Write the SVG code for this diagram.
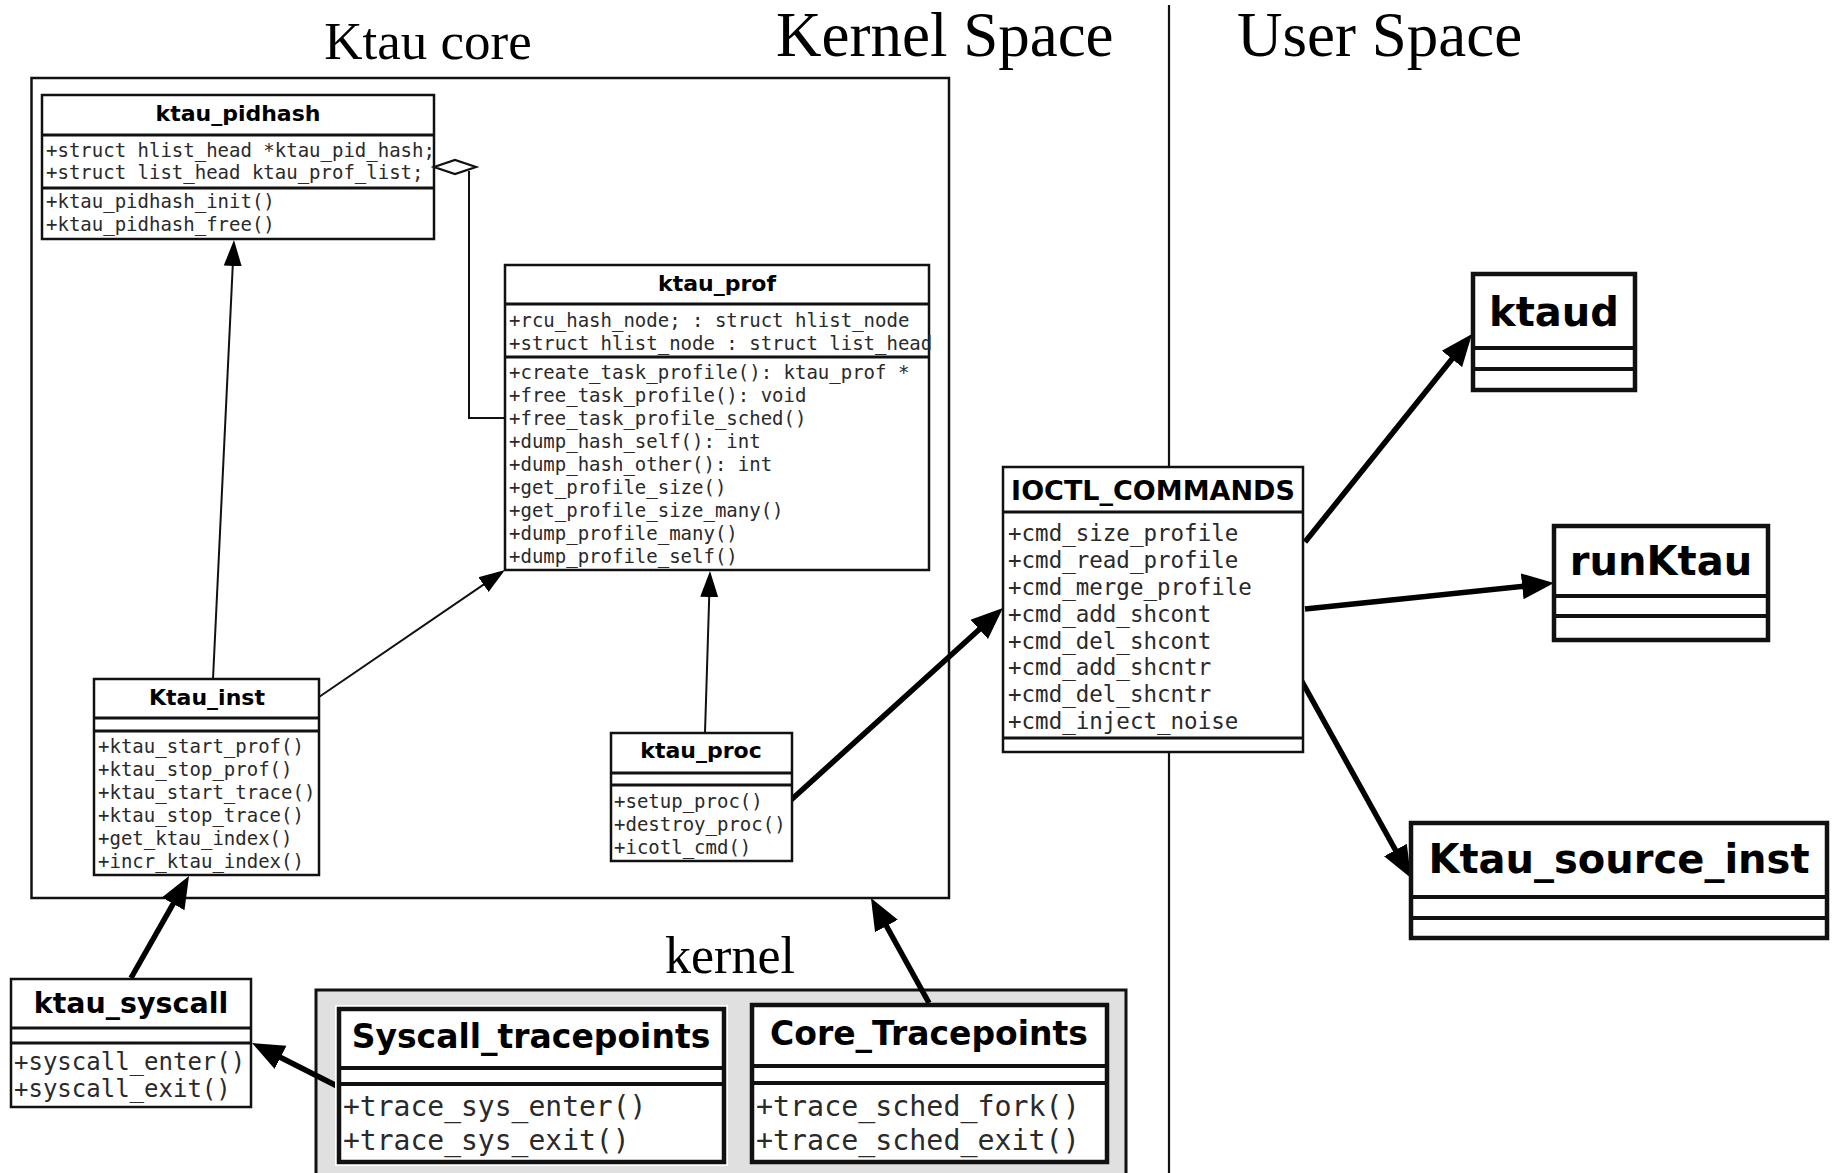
<svg xmlns="http://www.w3.org/2000/svg" width="1833" height="1173" viewBox="0 0 1833 1173">
<defs>
<style>
.lbl{font-family:"Liberation Serif","Times New Roman",serif;fill:#000}
.t{font-family:"DejaVu Sans",sans-serif;font-weight:bold;fill:#000;text-anchor:middle}
.m{font-family:"DejaVu Sans Mono",monospace;fill:#2a2a2a}
.box{fill:#fff;stroke:#111;stroke-width:2.5}
.sep{stroke:#111;stroke-width:3}
.bbox{fill:#fff;stroke:#111;stroke-width:4.5}
.bsep{stroke:#111;stroke-width:4}
.thin{stroke:#111;stroke-width:2;fill:none}
.thick{stroke:#000;stroke-width:5.5;fill:none}
</style>
<marker id="ah" viewBox="0 -10 26 20" refX="16" refY="0" markerWidth="26" markerHeight="20" markerUnits="userSpaceOnUse" orient="auto">
<path d="M0,-9 L26,0 L0,9 z" fill="#000"/>
</marker>
<marker id="AH" viewBox="0 -14 32 28" refX="16" refY="0" markerWidth="32" markerHeight="28" markerUnits="userSpaceOnUse" orient="auto">
<path d="M0,-13 L32,0 L0,13 z" fill="#000"/>
</marker>
</defs>
<rect width="1833" height="1173" fill="#fff"/>

<!-- labels -->
<text class="lbl" x="428" y="59" font-size="53" text-anchor="middle">Ktau core</text>
<text class="lbl" x="776" y="56" font-size="63">Kernel Space</text>
<text class="lbl" x="1237" y="56" font-size="63">User Space</text>
<text class="lbl" x="665" y="973" font-size="52">kernel</text>

<!-- divider -->
<line x1="1169" y1="5" x2="1169" y2="1173" stroke="#111" stroke-width="2.2"/>

<!-- Ktau core frame -->
<rect id="ktau_core_frame" x="31.5" y="78" width="917.5" height="820" fill="none" stroke="#111" stroke-width="2.5"/>

<!-- kernel group box -->
<rect id="kernel_frame" x="316" y="990" width="810" height="200" fill="#e0e0e0" stroke="#111" stroke-width="3"/>

<g id="connectors">
<polyline class="thin" points="505,418 469,418 469,171"/>
<line class="thin" x1="213" y1="679" x2="233.5" y2="250" marker-end="url(#ah)"/>
<line class="thin" x1="319" y1="697" x2="496.7" y2="575.6" marker-end="url(#ah)"/>
<line class="thin" x1="705" y1="733" x2="709.7" y2="581" marker-end="url(#ah)"/>
<line class="thick" x1="791" y1="800" x2="991.1" y2="618.7" marker-end="url(#AH)"/>
<line class="thick" x1="1305" y1="542" x2="1462" y2="346.5" marker-end="url(#AH)"/>
<line class="thick" x1="1305" y1="609" x2="1538.1" y2="584.7" marker-end="url(#AH)"/>
<line class="thick" x1="1300" y1="678" x2="1403.2" y2="864" marker-end="url(#AH)"/>
<line class="thick" x1="131" y1="978" x2="181.1" y2="889.9" marker-end="url(#AH)"/>
<line class="thick" x1="929" y1="1003" x2="878.7" y2="912" marker-end="url(#AH)"/>
<line class="thick" x1="337" y1="1086" x2="266.3" y2="1050.2" marker-end="url(#AH)"/>
</g>

<g id="ktau_pidhash">
<rect class="box" x="42" y="95" width="392" height="144"/>
<line class="sep" x1="42" y1="135" x2="434" y2="135"/>
<line class="sep" x1="42" y1="188" x2="434" y2="188"/>
<text class="t" x="238" y="121" font-size="22">ktau_pidhash</text>
<text class="m" x="46" y="157" font-size="19">+struct hlist_head *ktau_pid_hash;</text>
<text class="m" x="46" y="179" font-size="19">+struct list_head ktau_prof_list;</text>
<text class="m" x="46" y="208" font-size="19">+ktau_pidhash_init()</text>
<text class="m" x="46" y="231" font-size="19">+ktau_pidhash_free()</text>
<polygon points="434,167 455,160 476,167 455,174" fill="#fff" stroke="#111" stroke-width="2.2"/>
</g>

<g id="ktau_prof">
<rect class="box" x="505" y="265" width="424" height="305"/>
<line class="sep" x1="505" y1="304" x2="929" y2="304"/>
<line class="sep" x1="505" y1="357" x2="929" y2="357"/>
<text class="t" x="717" y="291" font-size="22">ktau_prof</text>
<text class="m" x="509" y="327" font-size="19">+rcu_hash_node; : struct hlist_node</text>
<text class="m" x="509" y="350" font-size="19">+struct hlist_node : struct list_head</text>
<text class="m" x="509" y="379" font-size="19">+create_task_profile(): ktau_prof *</text>
<text class="m" x="509" y="402" font-size="19">+free_task_profile(): void</text>
<text class="m" x="509" y="425" font-size="19">+free_task_profile_sched()</text>
<text class="m" x="509" y="448" font-size="19">+dump_hash_self(): int</text>
<text class="m" x="509" y="471" font-size="19">+dump_hash_other(): int</text>
<text class="m" x="509" y="494" font-size="19">+get_profile_size()</text>
<text class="m" x="509" y="517" font-size="19">+get_profile_size_many()</text>
<text class="m" x="509" y="540" font-size="19">+dump_profile_many()</text>
<text class="m" x="509" y="563" font-size="19">+dump_profile_self()</text>
</g>

<g id="Ktau_inst">
<rect class="box" x="94" y="679" width="225" height="196"/>
<line class="sep" x1="94" y1="718" x2="319" y2="718"/>
<line class="sep" x1="94" y1="731" x2="319" y2="731"/>
<text class="t" x="207" y="705" font-size="22">Ktau_inst</text>
<text class="m" x="98" y="753" font-size="19">+ktau_start_prof()</text>
<text class="m" x="98" y="776" font-size="19">+ktau_stop_prof()</text>
<text class="m" x="98" y="799" font-size="19">+ktau_start_trace()</text>
<text class="m" x="98" y="822" font-size="19">+ktau_stop_trace()</text>
<text class="m" x="98" y="845" font-size="19">+get_ktau_index()</text>
<text class="m" x="98" y="868" font-size="19">+incr_ktau_index()</text>
</g>

<g id="ktau_proc">
<rect class="box" x="611" y="733" width="181" height="128"/>
<line class="sep" x1="611" y1="773" x2="792" y2="773"/>
<line class="sep" x1="611" y1="785" x2="792" y2="785"/>
<text class="t" x="701" y="758" font-size="22">ktau_proc</text>
<text class="m" x="614" y="808" font-size="19">+setup_proc()</text>
<text class="m" x="614" y="831" font-size="19">+destroy_proc()</text>
<text class="m" x="614" y="854" font-size="19">+icotl_cmd()</text>
</g>

<g id="IOCTL_COMMANDS">
<rect class="box" x="1003" y="467" width="300" height="285" stroke-width="3"/>
<line class="sep" x1="1003" y1="512" x2="1303" y2="512"/>
<line class="sep" x1="1003" y1="738" x2="1303" y2="738"/>
<text class="t" x="1153" y="500" font-size="27">IOCTL_COMMANDS</text>
<text class="m" x="1008" y="541" font-size="22.5">+cmd_size_profile</text>
<text class="m" x="1008" y="568" font-size="22.5">+cmd_read_profile</text>
<text class="m" x="1008" y="595" font-size="22.5">+cmd_merge_profile</text>
<text class="m" x="1008" y="622" font-size="22.5">+cmd_add_shcont</text>
<text class="m" x="1008" y="649" font-size="22.5">+cmd_del_shcont</text>
<text class="m" x="1008" y="675" font-size="22.5">+cmd_add_shcntr</text>
<text class="m" x="1008" y="702" font-size="22.5">+cmd_del_shcntr</text>
<text class="m" x="1008" y="729" font-size="22.5">+cmd_inject_noise</text>
</g>

<g id="ktaud">
<rect class="bbox" x="1473" y="274" width="162" height="116"/>
<line class="bsep" x1="1473" y1="348" x2="1635" y2="348"/>
<line class="bsep" x1="1473" y1="369" x2="1635" y2="369"/>
<text class="t" x="1554" y="326" font-size="40">ktaud</text>
</g>

<g id="runKtau">
<rect class="bbox" x="1554" y="526" width="214" height="114"/>
<line class="bsep" x1="1554" y1="596" x2="1768" y2="596"/>
<line class="bsep" x1="1554" y1="616" x2="1768" y2="616"/>
<text class="t" x="1661" y="575" font-size="40">runKtau</text>
</g>

<g id="Ktau_source_inst">
<rect class="bbox" x="1411" y="823" width="416" height="115"/>
<line class="bsep" x1="1411" y1="897" x2="1827" y2="897"/>
<line class="bsep" x1="1411" y1="918" x2="1827" y2="918"/>
<text class="t" x="1619" y="873" font-size="40">Ktau_source_inst</text>
</g>

<g id="ktau_syscall">
<rect class="box" x="11" y="979" width="240" height="128" stroke-width="3"/>
<line class="sep" x1="11" y1="1028" x2="251" y2="1028"/>
<line class="sep" x1="11" y1="1043" x2="251" y2="1043"/>
<text class="t" x="131" y="1013" font-size="28.5">ktau_syscall</text>
<text class="m" x="14" y="1070" font-size="24">+syscall_enter()</text>
<text class="m" x="14" y="1097" font-size="24">+syscall_exit()</text>
</g>

<g id="Syscall_tracepoints">
<rect x="335" y="1005" width="393" height="161" fill="#fff"/>
<rect class="bbox" x="339" y="1009" width="385" height="153" stroke-width="3.5"/>
<line class="bsep" x1="339" y1="1068" x2="724" y2="1068"/>
<line class="bsep" x1="339" y1="1084" x2="724" y2="1084"/>
<text class="t" x="531" y="1048" font-size="33">Syscall_tracepoints</text>
<text class="m" x="343" y="1116" font-size="28">+trace_sys_enter()</text>
<text class="m" x="343" y="1150" font-size="28">+trace_sys_exit()</text>
</g>

<g id="Core_Tracepoints">
<rect class="bbox" x="752" y="1005" width="355" height="157" stroke-width="3.5"/>
<line class="bsep" x1="752" y1="1066" x2="1107" y2="1066"/>
<line class="bsep" x1="752" y1="1083" x2="1107" y2="1083"/>
<text class="t" x="929" y="1045" font-size="33">Core_Tracepoints</text>
<text class="m" x="756" y="1116" font-size="28.3">+trace_sched_fork()</text>
<text class="m" x="756" y="1150" font-size="28.3">+trace_sched_exit()</text>
</g>
</svg>
